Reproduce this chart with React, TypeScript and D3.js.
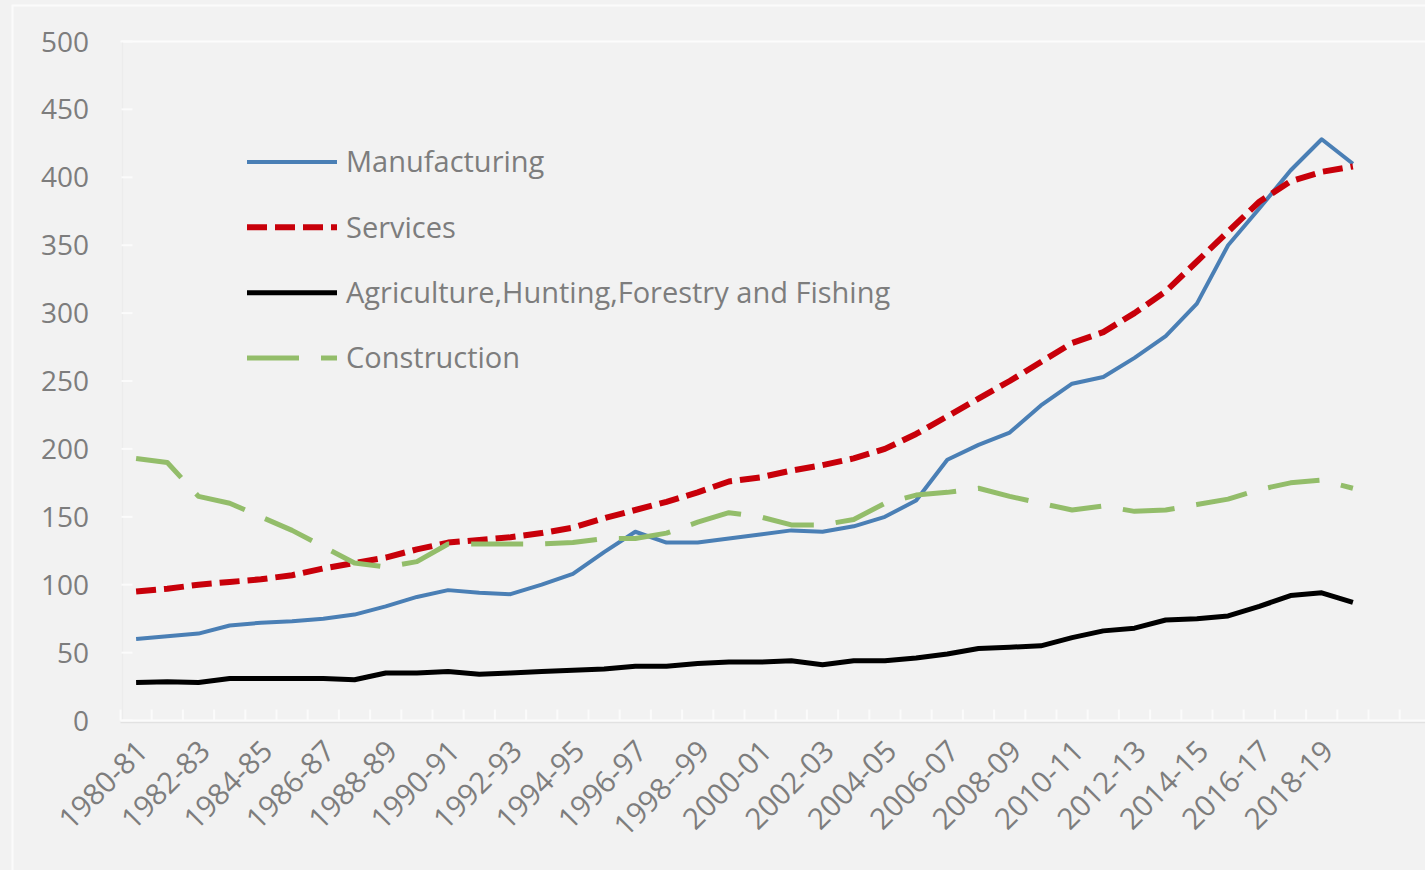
import React from "react";
import * as d3 from "d3";

const categories = [
  "1980-81", "1981-82", "1982-83", "1983-84", "1984-85", "1985-86", "1986-87", "1987-88",
  "1988-89", "1989-90", "1990-91", "1991-92", "1992-93", "1993-94", "1994-95", "1995-96",
  "1996-97", "1997-98", "1998--99", "1999-00", "2000-01", "2001-02", "2002-03", "2003-04",
  "2004-05", "2005-06", "2006-07", "2007-08", "2008-09", "2009-10", "2010-11", "2011-12",
  "2012-13", "2013-14", "2014-15", "2015-16", "2016-17", "2017-18", "2018-19", "2019-20",
];
// empty category slots that the axis keeps on its right side
const emptySlots = 2;

const manufacturing = [
  60, 62, 64, 70, 72, 73, 75, 78, 84, 91, 96, 94, 93, 100, 108, 124, 139, 131, 131, 134,
  137, 140, 139, 143, 150, 162, 192, 203, 212, 232, 248, 253, 267, 283, 307, 350, 377, 405, 428, 410,
];
const services = [
  95, 97, 100, 102, 104, 107, 112, 116, 120, 126, 131, 133, 135, 138, 142, 149, 155, 161, 168, 176,
  179, 184, 188, 193, 200, 211, 224, 237, 250, 264, 278, 286, 300, 316, 338, 360, 382, 397, 404, 408,
];
const agriculture = [
  28, 28.5, 28, 31, 31, 31, 31, 30, 35, 35, 36, 34, 35, 36, 37, 38, 40, 40, 42, 43,
  43, 44, 41, 44, 44, 46, 49, 53, 54, 55, 61, 66, 68, 74, 75, 77, 84, 92, 94, 87,
];
const construction = [
  193, 190, 165, 160, 150, 140, 128, 116, 113, 117, 130, 130, 130, 130, 131, 134, 134, 138, 146, 153,
  150, 144, 144, 148, 160, 166, 168, 171, 165, 160, 155, 158, 154, 155, 159, 163, 170, 175, 177, 171,
];

const yTicks = [0, 50, 100, 150, 200, 250, 300, 350, 400, 450, 500];

const seriesNames = [
  "Manufacturing",
  "Services",
  "Agriculture,Hunting,Forestry and Fishing",
  "Construction",
];

const series = [
  { name: seriesNames[0], values: manufacturing, color: "#4a7fb5", width: 4, dash: "none" },
  { name: seriesNames[1], values: services, color: "#c8000a", width: 6, dash: "20 8" },
  { name: seriesNames[2], values: agriculture, color: "#000000", width: 5, dash: "none" },
  { name: seriesNames[3], values: construction, color: "#93bd6a", width: 5, dash: "52 22" },
];

const W = 1425;
const H = 870;
const plotLeft = 120.5;
const step = 31.2;
const yBottom = 720.5;
const yTop = 41.5;
const font = "'Open Sans', sans-serif";
const textColor = "#7d7d7d";

export default function App() {
  const nSlots = categories.length + emptySlots;
  const x = d3
    .scaleBand<number>()
    .domain(d3.range(nSlots))
    .range([plotLeft, plotLeft + nSlots * step])
    .paddingInner(0)
    .paddingOuter(0);
  const y = d3.scaleLinear().domain([0, 500]).range([yBottom, yTop]);
  const cx = (i: number) => (x(i) as number) + x.bandwidth() / 2;

  const line = d3
    .line<number>()
    .x((_, i) => cx(i))
    .y((d) => y(d))
    .curve(d3.curveLinear);

  const legendX0 = 247;
  const legendX1 = 337;
  const legendY = d3.scalePoint<string>().domain(seriesNames).range([162, 358]);

  return (
    <svg
      width={W}
      height={H}
      style={{ position: "absolute", left: 0, top: 0, background: "#f2f2f2" }}
    >
      <rect x={0} y={0} width={W} height={H} fill="#f2f2f2" />
      {/* outer chart border */}
      <path d={`M12.5,${H} V5.5 H${W}`} fill="none" stroke="#fbfbfb" strokeWidth={2} />

      {/* top gridline */}
      <line x1={plotLeft} x2={W} y1={y(500)} y2={y(500)} stroke="#fcfcfc" strokeWidth={2.2} />

      {/* y axis line and ticks */}
      <line x1={plotLeft + 2} x2={plotLeft + 2} y1={y(500)} y2={y(0)} stroke="#ececec" strokeWidth={1.2} />
      {yTicks.map((t) => (
        <g key={t}>
          <line x1={plotLeft + 1} x2={plotLeft + 12} y1={y(t)} y2={y(t)} stroke="#fbfbfb" strokeWidth={2} />
          <text
            x={89}
            y={y(t)}
            dy="0.36em"
            textAnchor="end"
            fontFamily={font}
            fontSize={28}
            fill={textColor}
          >
            {t}
          </text>
        </g>
      ))}

      {/* x axis */}
      <line x1={plotLeft} x2={W} y1={yBottom + 2} y2={yBottom + 2} stroke="#e2e2e2" strokeWidth={1.5} />
      <line x1={plotLeft} x2={W} y1={yBottom} y2={yBottom} stroke="#fbfbfb" strokeWidth={2} />
      {d3.range(nSlots + 1).map((i) => {
        const xx = plotLeft + i * x.bandwidth();
        return (
          <line key={i} x1={xx} x2={xx} y1={yBottom - 11} y2={yBottom} stroke="#fbfbfb" strokeWidth={2} />
        );
      })}
      {categories.map((c, i) =>
        i % 2 === 0 ? (
          <text
            key={c}
            transform={`translate(${cx(i) + 6},${yBottom + 25}) rotate(-45)`}
            textAnchor="end"
            dy="0.36em"
            fontFamily={font}
            fontSize={29.5}
            fill={textColor}
          >
            {c}
          </text>
        ) : null
      )}

      {/* series lines */}
      {series.map((s) => (
        <path
          key={s.name}
          d={line(s.values) || ""}
          fill="none"
          stroke={s.color}
          strokeWidth={s.width}
          strokeDasharray={s.dash}
          strokeLinejoin="round"
        />
      ))}

      {/* legend */}
      {series.map((s) => {
        const ly = legendY(s.name) as number;
        return (
          <g key={s.name}>
            <line
              x1={legendX0}
              x2={legendX1}
              y1={ly}
              y2={ly}
              stroke={s.color}
              strokeWidth={s.width}
              strokeDasharray={s.dash}
            />
            <text
              x={346}
              y={ly}
              dy="0.36em"
              fontFamily={font}
              fontSize={29}
              fill={textColor}
            >
              {s.name}
            </text>
          </g>
        );
      })}
    </svg>
  );
}
